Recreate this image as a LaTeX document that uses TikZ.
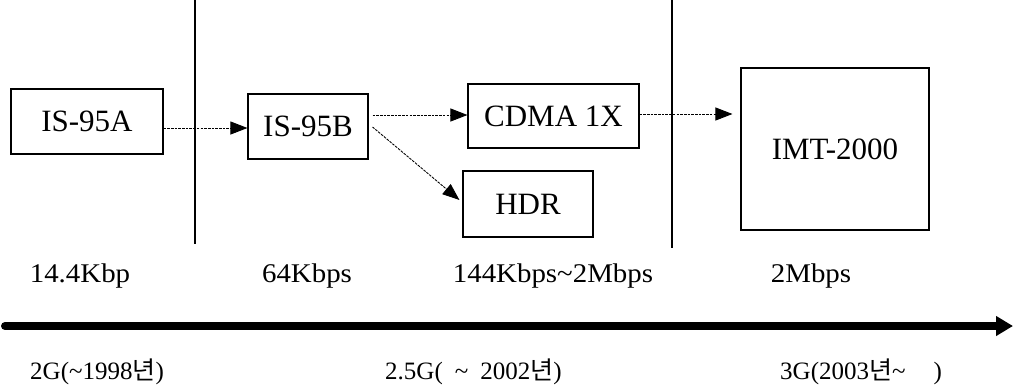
\documentclass[tikz,border=0pt]{standalone}
\usepackage{fontspec}
\setmainfont{Liberation Serif}
\newfontfamily\ratefont[FakeStretch=1.07]{Liberation Serif}
\newfontfamily\krfont{Noto Sans CJK KR}
\usetikzlibrary{arrows.meta}
\newcommand{\nyeon}{{\krfont 년}}
\tikzset{
  box/.style={draw=black, line width=1.1pt, rectangle, inner sep=0pt, font=\fontsize{31}{31}\selectfont},
  arr/.style={line width=0.9pt, dash pattern=on 2.6pt off 1.1pt, -{Triangle[length=17pt,width=13pt]}},
  sep/.style={line width=1.2pt},
  rate/.style={inner sep=0pt, font=\ratefont\fontsize{27}{27}\selectfont},
  era/.style={inner sep=0pt, anchor=west, font=\fontsize{25}{25}\selectfont},
  axis/.style={line width=8pt, line cap=round, -{Triangle[length=17pt,width=19pt]}}
}
\begin{document}
\begin{tikzpicture}[x=1pt,y=-1pt]
\useasboundingbox (0,0) rectangle (1015,389);
% separators
\coordinate (l1t) at (195,0);
\coordinate (l1b) at (195,244);
\coordinate (l2t) at (672,0);
\coordinate (l2b) at (672,248);
\draw[sep] (l1t) -- (l1b);
\draw[sep] (l2t) -- (l2b);
% boxes
\node[box, minimum width=152pt, minimum height=65pt] (A) at (87,121.5) {IS-95A};
\node[box, minimum width=120pt, minimum height=65pt] (B) at (308,126.5) {IS-95B};
\node[box, minimum width=171pt, minimum height=64pt] (C) at (553.5,116) {CDMA 1X};
\node[box, minimum width=130pt, minimum height=66pt] (H) at (528,204) {HDR};
\node[box, minimum width=188pt, minimum height=162pt] (I) at (835,149) {IMT-2000};
% connectors
\draw[arr] ([yshift=-6.5pt]A.east) -- ([yshift=-1.5pt]B.west);
\draw[arr] ([xshift=4pt,yshift=11.5pt]B.east) -- ([yshift=1pt]C.west);
\draw[arr] ([xshift=4pt,yshift=-0.5pt]B.east) -- ([xshift=-3pt,yshift=4pt]H.west);
\draw[arr] ([yshift=2pt]C.east) -- ([xshift=-8pt,yshift=35pt]I.west);
% rates
\node[rate] (r1) at (80,276) {14.4Kbp};
\node[rate] (r2) at (307,276) {64Kbps};
\node[rate] (r3) at (553,276) {144Kbps\textasciitilde 2Mbps};
\node[rate] (r4) at (811,276) {2Mbps};
% axis
\coordinate (ax0) at (5,326);
\coordinate (ax1) at (1013,326);
\draw[axis] (ax0) -- (ax1);
% eras
\node[era] (g1) at (30,372) {2G(\textasciitilde 1998\nyeon)};
\node[era] (g2) at (385,372) {2.5G(\hspace{12pt}\textasciitilde\hspace{12pt}2002\nyeon)};
\node[era] (g3) at (780,372) {3G(2003\nyeon\textasciitilde\hspace{28pt})};
\end{tikzpicture}
\end{document}
